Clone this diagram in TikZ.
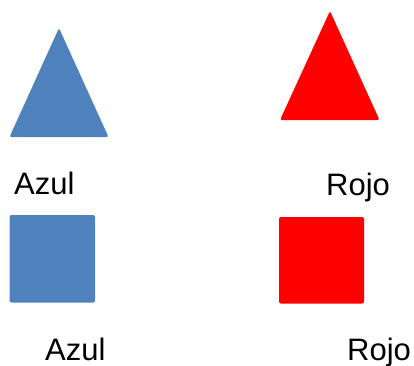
\documentclass[tikz,border=0pt]{standalone}
\usepackage{fontspec}
\setmainfont{Liberation Sans}
\definecolor{officeblue}{HTML}{4F81BD}
\definecolor{pure red}{HTML}{FF0000}
\begin{document}
\begin{tikzpicture}[x=1pt,y=-1pt,
  shapefill/.style={rounded corners=2pt, line join=round},
  lbl/.style={anchor=base west, inner sep=0pt, font=\fontsize{31}{36}\selectfont}]
\useasboundingbox (0,0) rectangle (414,365);
\fill[officeblue, shapefill] (59,28) -- (108.5,137) -- (9.5,137) -- cycle;
\fill[pure red, shapefill] (330,11) -- (379.5,120) -- (280,120) -- cycle;
\fill[officeblue, shapefill] (9.5,215) rectangle (95,302.5);
\fill[pure red, shapefill] (279,217) rectangle (364,303.5);
\node[lbl] (azul1) at (14,194) {Azul};
\node[lbl] (rojo1) at (326,195) {Rojo};
\node[lbl] (azul2) at (45,360) {Azul};
\node[lbl] (rojo2) at (347,360) {Rojo};
\end{tikzpicture}
\end{document}
